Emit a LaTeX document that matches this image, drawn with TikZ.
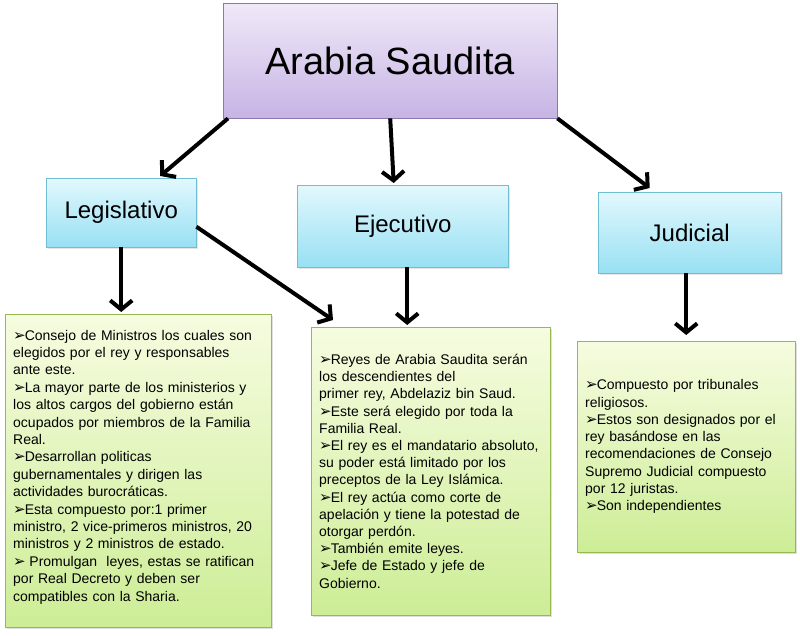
\documentclass[tikz,border=0pt]{standalone}
\usepackage{fontspec}
\setmainfont{Liberation Sans}
\newfontfamily\dingfont{DejaVu Sans}
\usepackage{tikz}
\usetikzlibrary{positioning,arrows.meta,shadows}
\definecolor{titletop}{RGB}{240,233,248}
\definecolor{titlebot}{RGB}{198,180,228}
\definecolor{titleline}{RGB}{140,120,175}
\definecolor{branchtop}{RGB}{226,248,253}
\definecolor{branchbot}{RGB}{152,224,243}
\definecolor{branchline}{RGB}{110,190,212}
\definecolor{infotop}{RGB}{246,252,224}
\definecolor{infobot}{RGB}{205,237,150}
\definecolor{infoline}{RGB}{150,185,80}
\newcommand{\bularrow}{{\dingfont\fontsize{15}{14}\selectfont ➢}\kern-1pt}
\tikzset{ %
  ,>={Straight Barb[length=9pt,width=22pt]}
  ,titlebox/.style={draw=titleline, top color=titletop, bottom color=titlebot, anchor=north west, minimum width=334pt, minimum height=115pt, font=\fontsize{38}{38}\selectfont}
  ,branchbox/.style={draw=branchline, top color=branchtop, bottom color=branchbot, anchor=north west, inner sep=0, font=\fontsize{24}{24}\selectfont, drop shadow={opacity=0.2, shadow xshift=1.5pt, shadow yshift=-1.5pt}}
  ,infobox/.style={draw=infoline, top color=infotop, bottom color=infobot, anchor=north west, align=left, inner xsep=8pt, inner ysep=0, drop shadow={opacity=0.25, shadow xshift=1.5pt, shadow yshift=-2pt}}
  ,link/.style={->, line width=4pt}
}

\begin{document}
\begin{tikzpicture}[x=1pt, y=-1pt]
  \fill[white] (0,0) rectangle (800,635);
  \useasboundingbox (0,0) rectangle (800,635);
  \draw
  node[titlebox] (saudi) at (223,3) {Arabia Saudita}
  node[branchbox, minimum width=150pt, minimum height=69pt] (legis) at (46,178) {Legislativo}
  node[branchbox, minimum width=211pt, minimum height=82pt] (ejec) at (297,185) {Ejecutivo}
  node[branchbox, minimum width=183pt, minimum height=81pt] (judic) at (598,192) {Judicial};
  % cuadros de texto
  \node[infobox, text width=250pt, minimum height=313pt, font=\fontsize{14}{17.4}\selectfont] (legisinfo) at (5,314) {%
    \bularrow Consejo de Ministros los cuales son\\
    elegidos por el rey y responsables\\
    ante este.\\
    \bularrow La mayor parte de los ministerios y\\
    los altos cargos del gobierno están\\
    ocupados por miembros de la Familia\\
    Real.\\
    \bularrow Desarrollan politicas\\
    gubernamentales y dirigen las\\
    actividades burocráticas.\\
    \bularrow Esta compuesto por:1 primer\\
    ministro, 2 vice-primeros ministros, 20\\
    ministros y 2 ministros de estado.\\
    \bularrow\ Promulgan\ \ leyes, estas se ratifican\\
    por Real Decreto y deben ser\\
    compatibles con la Sharia.\\[-7pt]\mbox{}};
  \node[infobox, text width=223pt, minimum height=288pt, font=\fontsize{14}{17.2}\selectfont] (ejecinfo) at (311,327) {%
    \bularrow Reyes de Arabia Saudita serán\\
    los descendientes del\\
    primer rey, Abdelaziz bin Saud.\\
    \bularrow Este será elegido por toda la\\
    Familia Real.\\
    \bularrow El rey es el mandatario absoluto,\\
    su poder está limitado por los\\
    preceptos de la Ley Islámica.\\
    \bularrow El rey actúa como corte de\\
    apelación y tiene la potestad de\\
    otorgar perdón.\\
    \bularrow También emite leyes.\\
    \bularrow Jefe de Estado y jefe de\\
    Gobierno.};
  \node[infobox, text width=202pt, minimum height=211pt, font=\fontsize{14}{17.3}\selectfont] (judicinfo) at (577,341) {%
    \bularrow Compuesto por tribunales\\
    religiosos.\\
    \bularrow Estos son designados por el\\
    rey basándose en las\\
    recomendaciones de Consejo\\
    Supremo Judicial compuesto\\
    por 12 juristas.\\
    \bularrow Son independientes};
  % flechas
  \draw[link] ([xshift=5pt]saudi.south west) -- ([xshift=39pt,yshift=2pt]legis.north);
  \draw[link] (saudi.south) -- ([xshift=-9pt,yshift=2pt]ejec.north);
  \draw[link] (saudi.south east) -- ([xshift=-40pt,yshift=4pt]judic.north);
  \draw[link] (legis.south) -- ([yshift=2pt]legisinfo.north -| legis.south);
  \draw[link] ([yshift=-14pt]legis.east) -- ([xshift=22pt,yshift=7pt]ejecinfo.north west);
  \draw[link] ([xshift=4.5pt]ejec.south) -- ([xshift=4.5pt,yshift=2pt]ejec.south |- ejecinfo.north);
  \draw[link] ([xshift=-3.5pt]judic.south) -- ([xshift=-3.5pt,yshift=6pt]judic.south |- judicinfo.north);
\end{tikzpicture}
\end{document}
